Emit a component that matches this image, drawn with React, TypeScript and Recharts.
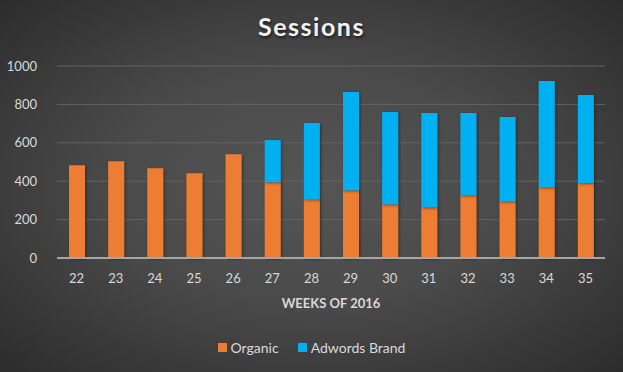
import { BarChart, Bar, XAxis, YAxis, CartesianGrid, Legend } from "recharts";

const weeks = ["22", "23", "24", "25", "26", "27", "28", "29", "30", "31", "32", "33", "34", "35"];
const organic = [483, 504, 468, 442, 541, 395, 306, 353, 280, 264, 327, 296, 369, 390];
const adwords = [0, 0, 0, 0, 0, 219, 397, 511, 480, 491, 428, 438, 553, 459];
const yTicks = [0, 200, 400, 600, 800, 1000];
const seriesNames = ["Organic", "Adwords Brand"];
const seriesColors = ["#ed7d31", "#00b0f0"];

const data = weeks.map((w, i) => ({ week: w, organic: organic[i], adwords: adwords[i] }));

const font = "Lato, 'Open Sans', sans-serif";
const textColor = "#d9d9d9";

function LegendContent() {
  return (
    <div style={{ display: "flex", justifyContent: "center", gap: 19, fontFamily: font, fontSize: 14, color: textColor }}>
      {seriesNames.map((name, i) => (
        <div key={name} style={{ display: "flex", alignItems: "center" }}>
          <span style={{ width: 9, height: 9, background: seriesColors[i], marginRight: 4, display: "inline-block" }} />
          {name}
        </div>
      ))}
    </div>
  );
}

export default function App() {
  return (
    <div
      style={{
        position: "absolute",
        left: 0,
        top: 0,
        width: 623,
        height: 372,
        background: "radial-gradient(ellipse at 50% 50%, #555555 0%, #4a4a4a 45%, #2c2c2c 100%)",
      }}
    >
      <svg width="0" height="0" style={{ position: "absolute" }}>
        <defs>
          <filter id="barShadow" x="-30%" y="-10%" width="160%" height="120%">
            <feDropShadow dx="1" dy="1" stdDeviation="1.5" floodColor="#000" floodOpacity="0.45" />
          </filter>
        </defs>
      </svg>
      <div
        style={{
          position: "absolute",
          top: 11,
          width: 623,
          textAlign: "center",
          fontFamily: font,
          fontWeight: 700,
          fontSize: 25,
          letterSpacing: 1.5,
          color: "#f2f2f2",
          textShadow: "1px 2px 3px rgba(0,0,0,0.6)",
        }}
      >
        Sessions
      </div>
      <BarChart width={623} height={372} data={data} margin={{ top: 66, right: 18, bottom: 62, left: 0 }} barSize={16}>
        <CartesianGrid vertical={false} stroke="#636363" strokeWidth={1} />
        <XAxis
          dataKey="week"
          axisLine={{ stroke: "#a6a6a6", strokeWidth: 2 }}
          tickLine={false}
          tick={{ fill: textColor, fontSize: 13, fontFamily: font }}
          tickMargin={10}
          height={52}
          label={{ value: "WEEKS OF 2016", position: "insideBottom", offset: 2, fill: textColor, fontSize: 13, fontWeight: 700, fontFamily: font }}
        />
        <YAxis
          domain={[0, 1000]}
          ticks={yTicks}
          width={57}
          axisLine={false}
          tickLine={false}
          tick={{ fill: textColor, fontSize: 13, fontFamily: font }}
          tickMargin={14}
        />
        <Legend verticalAlign="middle" align="center" wrapperStyle={{ top: 339, left: 0, width: 623 }} content={<LegendContent />} />
        <Bar dataKey="organic" name="Organic" stackId="a" fill={seriesColors[0]} isAnimationActive={false} filter="url(#barShadow)" />
        <Bar dataKey="adwords" name="Adwords Brand" stackId="a" fill={seriesColors[1]} isAnimationActive={false} filter="url(#barShadow)" />
      </BarChart>
    </div>
  );
}
